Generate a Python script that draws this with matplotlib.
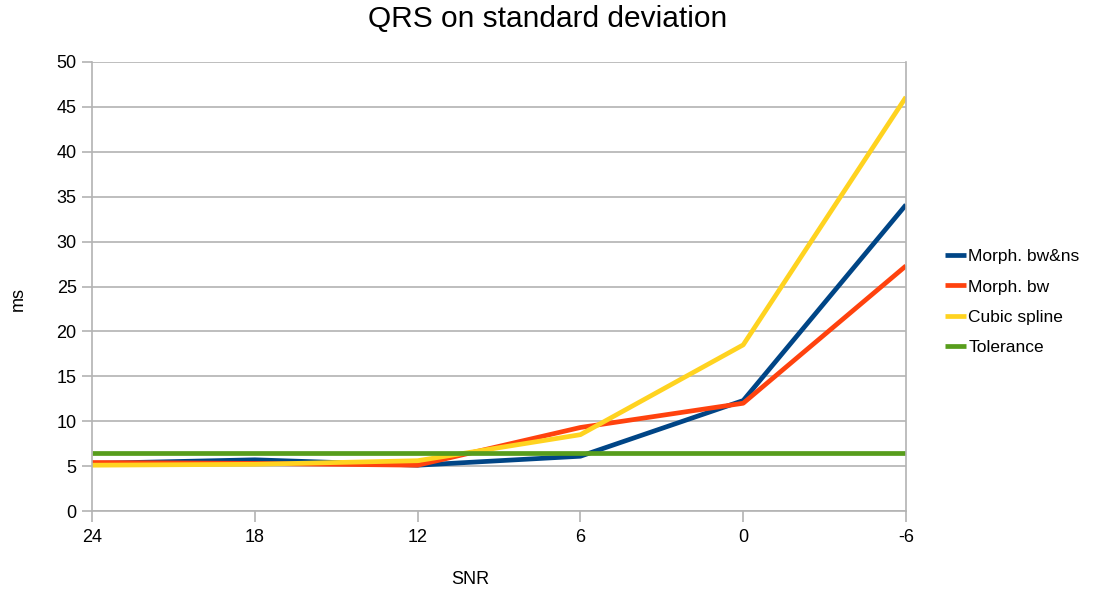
import matplotlib
matplotlib.use("Agg")
import matplotlib.pyplot as plt

plt.rcParams['font.family'] = ['Liberation Sans', 'DejaVu Sans']

snr_labels = ["24", "18", "12", "6", "0", "-6"]
morph_bw_ns = [5.3, 5.7, 5.1, 6.1, 12.3, 34.1]
morph_bw = [5.4, 5.3, 5.1, 9.3, 12.0, 27.3]
cubic_spline = [5.1, 5.2, 5.6, 8.5, 18.5, 46.1]
tolerance = [6.5, 6.5, 6.5, 6.5, 6.5, 6.5]

series = [
    ("Morph. bw&ns", morph_bw_ns, "#004586"),
    ("Morph. bw", morph_bw, "#ff420e"),
    ("Cubic spline", cubic_spline, "#ffd320"),
    ("Tolerance", tolerance, "#579d1c"),
]

fig = plt.figure(figsize=(10.99, 5.94), dpi=100)
W, H = 1099, 594
left, right, top, bottom = 92, 906, 62, 511
ax = fig.add_axes([left / W, 1 - bottom / H, (right - left) / W, (bottom - top) / H])

x = list(range(len(snr_labels)))
for name, vals, color in series:
    ax.plot(x, vals, color=color, lw=3.4, label=name, solid_capstyle='butt')

grid_c = "#b3b3b3"
ax.set_xlim(0, len(snr_labels) - 1)
ax.set_ylim(0, 50)
ax.set_yticks(range(0, 51, 5))
ax.set_xticks(x)
ax.set_xticklabels(snr_labels)
ax.yaxis.grid(True, color=grid_c, lw=1.2)
ax.set_axisbelow(True)
for s in ["left", "bottom", "right"]:
    ax.spines[s].set_color(grid_c)
    ax.spines[s].set_linewidth(1.2)
ax.spines["top"].set_visible(False)
ax.tick_params(axis='both', colors=grid_c, labelcolor="black", labelsize=13, width=1.2)
ax.tick_params(axis='x', length=8, pad=5)
ax.tick_params(axis='y', length=7, pad=4)

fig.text(548 / W, 1 - 19 / H, "QRS on standard deviation", ha="center", va="center",
         fontsize=21.5)
fig.text(18 / W, 1 - 299 / H, "ms", ha="center", va="center", rotation=90, fontsize=13)
fig.text(470 / W, 1 - 580 / H, "SNR", ha="center", va="center", fontsize=13)

fig.legend(loc="center left", bbox_to_anchor=(938 / W, 1 - 302 / H), frameon=False,
           fontsize=12.5, handlelength=1.2, handletextpad=0.15, labelspacing=0.86,
           borderaxespad=0)

fig.savefig("out.png", dpi=100)
